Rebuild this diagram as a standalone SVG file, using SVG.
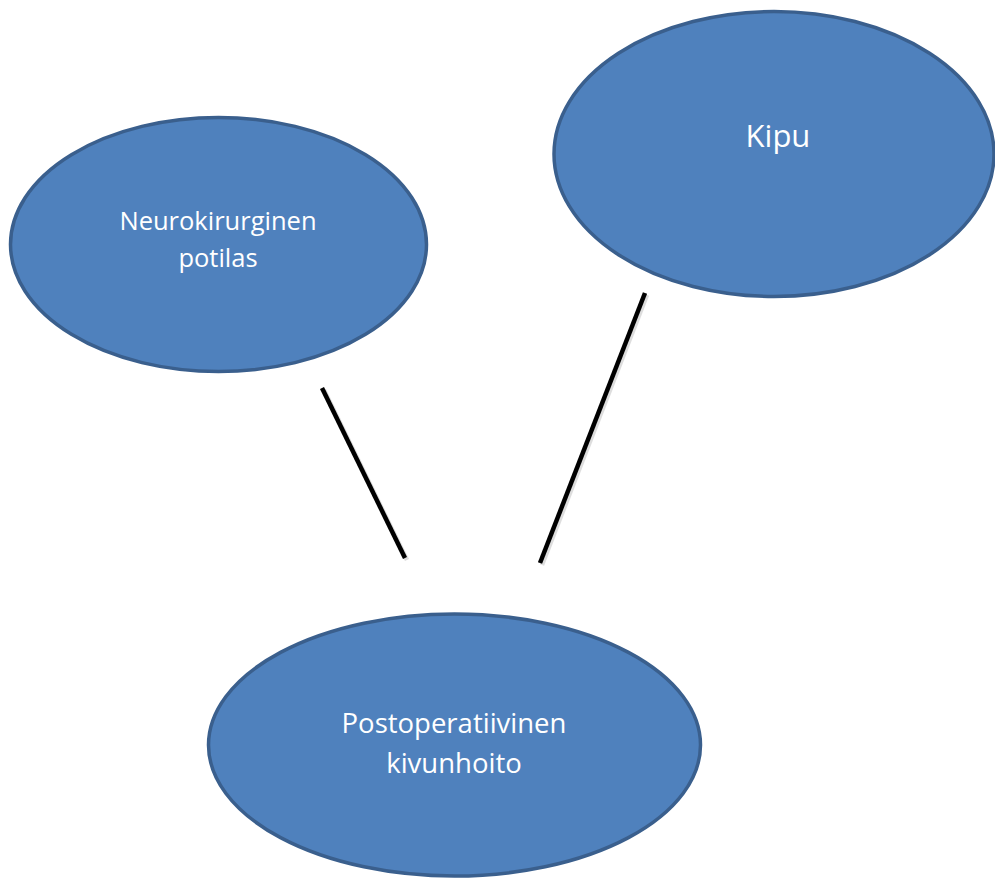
<svg xmlns="http://www.w3.org/2000/svg" width="995" height="878" viewBox="0 0 995 878">
<style>
.node{fill:#4f81bd;stroke:#3a5f8d;stroke-width:3.5}
.lbl{fill:#ffffff;font-family:"Open Sans","Liberation Sans",sans-serif;text-anchor:middle}
.conn{stroke:#000;stroke-width:4.5;stroke-linecap:butt;fill:none}
.shadow{stroke:#bbbbbb;stroke-width:4.5;fill:none;opacity:0.5}
</style>
<rect width="995" height="878" fill="#ffffff"/>
<g id="connectors">
<line class="shadow" x1="324" y1="390" x2="407" y2="560"/>
<line class="shadow" x1="647" y1="295" x2="542" y2="565"/>
<line class="conn" x1="322" y1="388" x2="405" y2="558"/>
<line class="conn" x1="645" y1="293" x2="540" y2="563"/>
</g>
<g id="node-neurokirurginen">
<ellipse class="node" cx="218.5" cy="244.5" rx="208" ry="127"/>
<text class="lbl" font-size="25.5" x="218" y="230">Neurokirurginen</text>
<text class="lbl" font-size="25.5" x="218" y="267">potilas</text>
</g>
<g id="node-kipu">
<ellipse class="node" cx="774" cy="154" rx="220" ry="142.5"/>
<text class="lbl" font-size="31" x="778" y="147">Kipu</text>
</g>
<g id="node-postoperatiivinen">
<ellipse class="node" cx="454.5" cy="745" rx="246" ry="131"/>
<text class="lbl" font-size="27.5" x="454" y="733">Postoperatiivinen</text>
<text class="lbl" font-size="27.5" x="454" y="773">kivunhoito</text>
</g>
</svg>
